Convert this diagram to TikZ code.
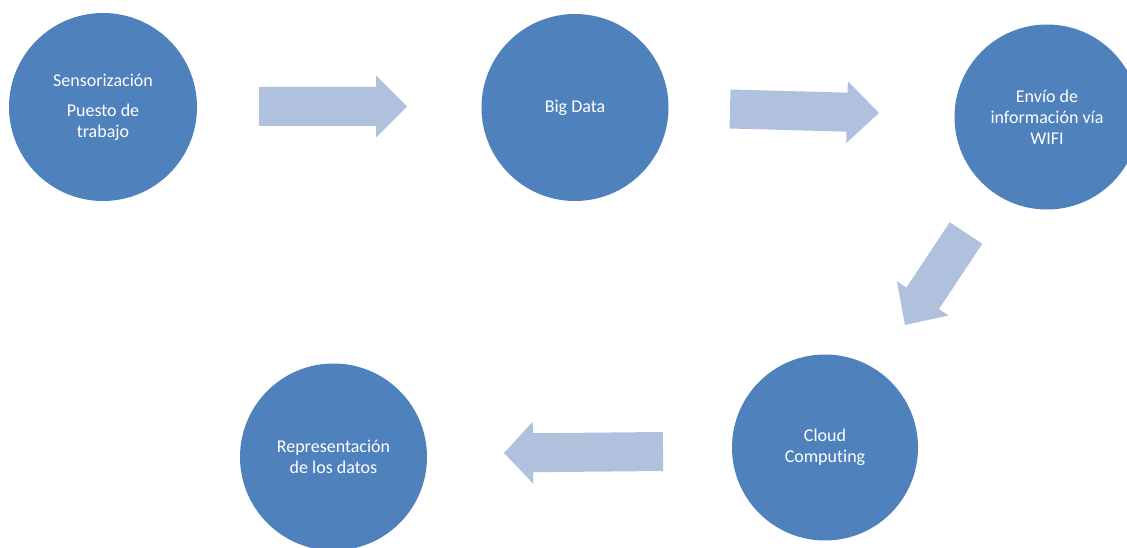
\documentclass[tikz,border=0pt]{standalone}
\usepackage{fontspec}
\setmainfont{Carlito}[Ligatures=NoCommon]
\usetikzlibrary{calc}
\definecolor{circblue}{HTML}{4F81BD}
\definecolor{arrowblue}{HTML}{B0C1DD}
\tikzset{
  stage/.style={circle, fill=circblue, draw=none, minimum size=#1, inner sep=0pt,
    text=white, align=center, font=\fontsize{18}{21}\selectfont},
  blockarrow/.style={fill=arrowblue, draw=none}
}
\newcommand{\flowarrow}[3]{%
  \coordinate (#1-h) at ($(#2)!#3!(#1)$);
  \fill[blockarrow] ($(#1)!19.5pt!90:(#2)$) -- ($(#1-h)!19.5pt!90:(#2)$)
    -- ($(#1-h)!31pt!90:(#2)$) -- (#2) -- ($(#1-h)!31pt!-90:(#2)$)
    -- ($(#1-h)!19.5pt!-90:(#2)$) -- ($(#1)!19.5pt!-90:(#2)$) -- cycle;
}
\begin{document}
\begin{tikzpicture}[x=1pt,y=-1pt]
  \useasboundingbox (0,0) rectangle (1127,548);
  \clip (0,0) rectangle (1127,548);
  \fill[white] (0,0) rectangle (1127,548);

  \node[stage=188pt] (n1) at (103,107) {Sensorización\\[9pt]Puesto de\\trabajo};
  \node[stage=187pt] (n2) at (575,107.5) {Big Data};
  \node[stage=185pt] (n3) at (1047,117) {Envío de\\información vía\\WIFI};
  \node[stage=186pt] (n4) at (825,447.5) {Cloud\\Computing};
  \node[stage=187pt] (n5) at (333.5,457) {Representación\\de los datos};

  \coordinate (a1s) at (259,106.5);  \coordinate (a1e) at (407,106.5);
  \coordinate (a2s) at (730,109);    \coordinate (a2e) at (879,113);
  \coordinate (a3s) at (966,233);    \coordinate (a3e) at (905,325);
  \coordinate (a4s) at (663,451.5);  \coordinate (a4e) at (504,453);

  \flowarrow{a1s}{a1e}{31pt}
  \flowarrow{a2s}{a2e}{32pt}
  \flowarrow{a3s}{a3e}{32pt}
  \flowarrow{a4s}{a4e}{29pt}
\end{tikzpicture}
\end{document}
